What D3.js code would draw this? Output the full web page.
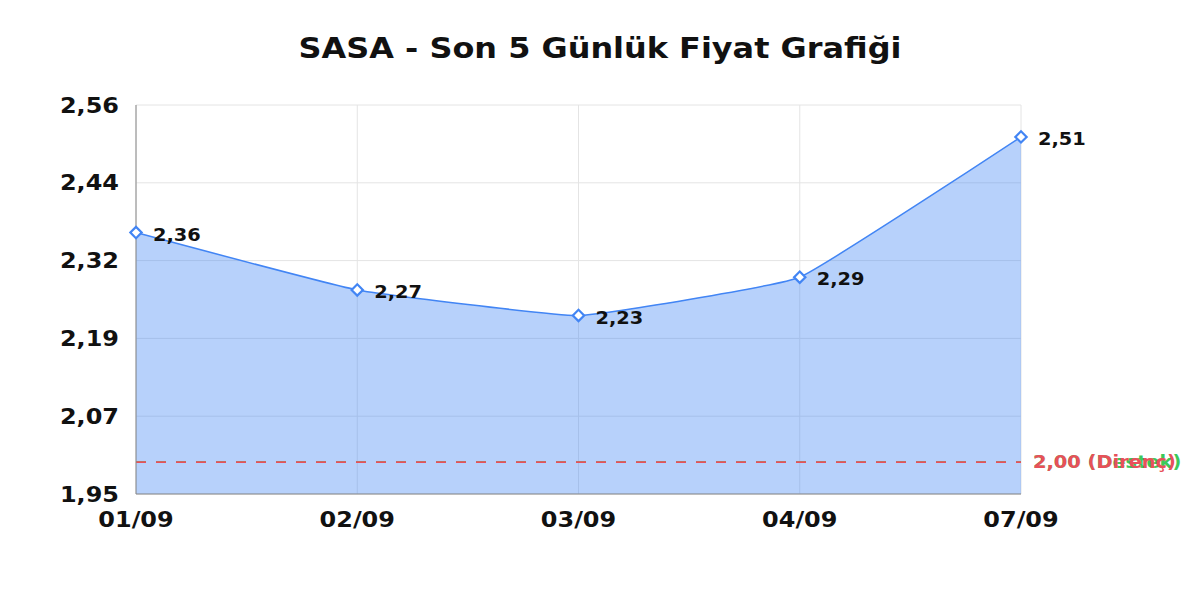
<!DOCTYPE html>
<html>
<head>
<meta charset="utf-8">
<script src="https://cdn.jsdelivr.net/npm/d3@7"></script>
<style>
  body { margin: 0; background: #fff; }
  text { font-family: "DejaVu Sans", sans-serif; font-weight: bold; }
</style>
</head>
<body>
<div class="chart"></div>
<script>
const title = "SASA - Son 5 Günlük Fiyat Grafiği"
const dates = ["01/09", "02/09", "03/09", "04/09", "07/09"]
const prices = [2.36, 2.27, 2.23, 2.29, 2.51]
const yDomain = [1.95, 2.56]
const levels = [
  { value: 2.00, label: "Destek", color: "#3cc85a" },
  { value: 2.00, label: "Direnç", color: "#e8505a" }
]

const width = 1200, height = 600
const margin = { top: 105, right: 179, bottom: 106, left: 136 }
const innerW = width - margin.left - margin.right
const innerH = height - margin.top - margin.bottom
// the reference glyphs are a bit wider than DejaVu, stretch horizontally
const stretch = 1.14

const fmt = v => d3.format(".2f")(v).replace(".", ",")
const place = (px, py) => `translate(${px},${py}) scale(${stretch},1)`

const svg = d3.select(".chart").append("svg")
  .attr("width", width)
  .attr("height", height)

svg.append("text")
  .attr("transform", place(width / 2, 58))
  .attr("text-anchor", "middle")
  .attr("font-size", 28)
  .attr("fill", "#111")
  .text(title)

const g = svg.append("g")
  .attr("transform", `translate(${margin.left},${margin.top})`)

const x = d3.scalePoint()
  .domain(dates)
  .range([0, innerW])

const y = d3.scaleLinear()
  .domain(yDomain)
  .range([innerH, 0])

const yTicks = d3.range(6).map(i => yDomain[0] + i * (yDomain[1] - yDomain[0]) / 5)

// grid
g.append("g")
  .selectAll("line")
  .data(yTicks)
  .join("line")
  .attr("x1", 0).attr("x2", innerW)
  .attr("y1", d => y(d)).attr("y2", d => y(d))
  .attr("stroke", "#e4e4e4")
  .attr("stroke-width", 1)

g.append("g")
  .selectAll("line")
  .data(dates)
  .join("line")
  .attr("x1", d => x(d)).attr("x2", d => x(d))
  .attr("y1", 0).attr("y2", innerH)
  .attr("stroke", "#e4e4e4")
  .attr("stroke-width", 1)

const data = dates.map((d, i) => ({ date: d, price: prices[i] }))
const curve = d3.curveCardinal.tension(0.7)

const area = d3.area()
  .x(d => x(d.date))
  .y0(innerH)
  .y1(d => y(d.price))
  .curve(curve)

const line = d3.line()
  .x(d => x(d.date))
  .y(d => y(d.price))
  .curve(curve)

g.append("path")
  .datum(data)
  .attr("d", area)
  .attr("fill", "rgba(66,133,244,0.38)")

g.append("path")
  .datum(data)
  .attr("d", line)
  .attr("fill", "none")
  .attr("stroke", "#4285f4")
  .attr("stroke-width", 1.5)

// support / resistance (resistance drawn last, on top)
levels.forEach(l => {
  g.append("line")
    .attr("x1", 0).attr("x2", innerW)
    .attr("y1", y(l.value)).attr("y2", y(l.value))
    .attr("stroke", l.color)
    .attr("stroke-width", 1.6)
    .attr("stroke-dasharray", "10,10")
  g.append("text")
    .attr("transform", place(innerW + 12, y(l.value)))
    .attr("dy", "0.36em")
    .attr("font-size", 17)
    .attr("fill", l.color)
    .text(`${fmt(l.value)} (${l.label})`)
})

// axes lines
g.append("line")
  .attr("x1", 0).attr("x2", 0)
  .attr("y1", 0).attr("y2", innerH)
  .attr("stroke", "#888")
g.append("line")
  .attr("x1", 0).attr("x2", innerW)
  .attr("y1", innerH).attr("y2", innerH)
  .attr("stroke", "#888")

// tick labels
g.append("g")
  .selectAll("text")
  .data(yTicks)
  .join("text")
  .attr("transform", d => place(-17, y(d)))
  .attr("dy", "0.36em")
  .attr("text-anchor", "end")
  .attr("font-size", 21)
  .attr("fill", "#111")
  .text(d => fmt(d))

g.append("g")
  .selectAll("text")
  .data(dates)
  .join("text")
  .attr("transform", d => place(x(d), innerH + 33))
  .attr("text-anchor", "middle")
  .attr("font-size", 21)
  .attr("fill", "#111")
  .text(d => d)

// markers
const sym = d3.symbol().type(d3.symbolSquare).size(64)
g.append("g")
  .selectAll("path")
  .data(data)
  .join("path")
  .attr("d", sym)
  .attr("transform", d => `translate(${x(d.date)},${y(d.price)}) rotate(45)`)
  .attr("fill", "#fff")
  .attr("stroke", "#4285f4")
  .attr("stroke-width", 2.2)

g.append("g")
  .selectAll("text")
  .data(data)
  .join("text")
  .attr("transform", d => place(x(d.date) + 17, y(d.price) + 2))
  .attr("dy", "0.36em")
  .attr("font-size", 17)
  .attr("fill", "#111")
  .text(d => fmt(d.price))
</script>
</body>
</html>
